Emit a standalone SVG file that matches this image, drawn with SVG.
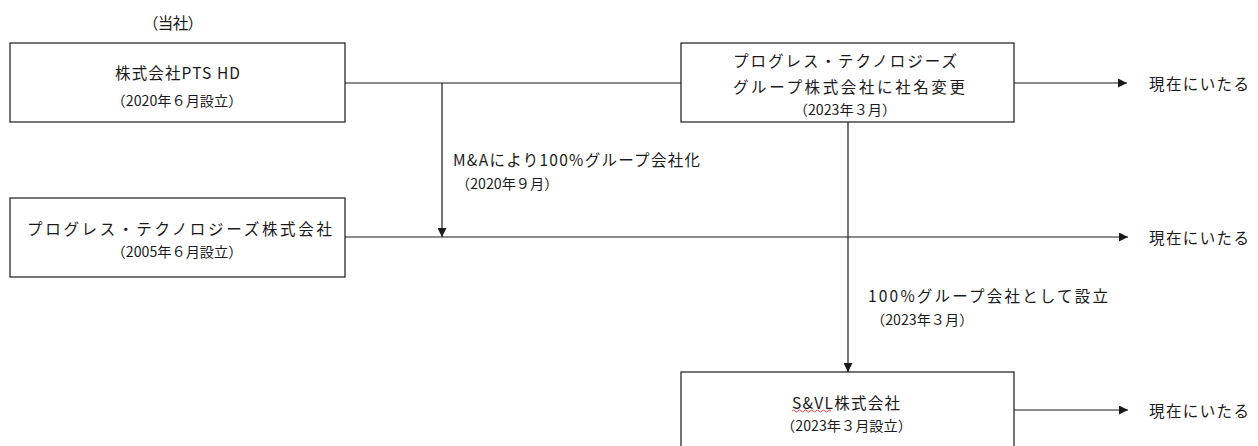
<svg xmlns="http://www.w3.org/2000/svg" width="1258" height="446" viewBox="0 0 1258 446">
<style>
  .box { fill: #ffffff; stroke: #1a1a1a; stroke-width: 1.2; }
  .t { font-family: "Noto Sans CJK JP", "Noto Sans", sans-serif; font-size: 15.5px; fill: #1a1a1a; dominant-baseline: central; }
  .p { font-size: 14.2px; }
  .c { text-anchor: middle; }
  .ln { fill: none; stroke: #1a1a1a; stroke-width: 1.2; }
  .squig { fill: none; stroke: #e03030; stroke-width: 0.9; }
</style>
<defs>
  <marker id="arr" viewBox="0 0 10 10" refX="10" refY="5" markerWidth="9" markerHeight="9" markerUnits="userSpaceOnUse" orient="auto">
    <path d="M0,0 L10,5 L0,10 Z" fill="#1a1a1a"/>
  </marker>
</defs>
<rect width="1258" height="446" fill="#ffffff"/>

<g id="label-tousha">
  <text class="t c" x="173" y="22" textLength="60" lengthAdjust="spacing">（当社）</text>
</g>

<g id="node-pts-hd">
  <rect class="box" x="10" y="43" width="335" height="79"/>
  <text class="t c" x="177.5" y="72" textLength="125" lengthAdjust="spacing">株式会社PTS HD</text>
  <text class="t p c" x="177" y="100">（2020年６月設立）</text>
</g>

<g id="node-ptg">
  <rect class="box" x="681" y="43" width="333" height="79"/>
  <text class="t c" x="845" y="60" textLength="224" lengthAdjust="spacing">プログレス・テクノロジーズ</text>
  <text class="t c" x="849" y="86" textLength="232" lengthAdjust="spacing">グループ株式会社に社名変更</text>
  <text class="t p c" x="845" y="109">（2023年３月）</text>
</g>

<g id="node-pt">
  <rect class="box" x="10" y="198" width="335" height="79"/>
  <text class="t c" x="179.5" y="228" textLength="305" lengthAdjust="spacing">プログレス・テクノロジーズ株式会社</text>
  <text class="t p c" x="177" y="251">（2005年６月設立）</text>
</g>

<g id="node-svl">
  <rect class="box" x="681" y="372" width="333" height="90"/>
  <text class="t c" x="846" y="402" textLength="108" lengthAdjust="spacing">S&amp;VL株式会社</text>
  <path class="squig" d="M792,411 q1.5,-2 3,0 t3,0 t3,0 t3,0 t3,0 t3,0 t3,0 t3,0 t3,0 t3,0 t3,0 t3,0 t3,0"/>
  <text class="t p c" x="846.5" y="425">（2023年３月設立）</text>
</g>

<g id="connectors">
  <path class="ln" d="M345,83 H681"/>
  <path class="ln" d="M442,83 V237" marker-end="url(#arr)"/>
  <path class="ln" d="M345,237 H1128" marker-end="url(#arr)"/>
  <path class="ln" d="M1014,83 H1127" marker-end="url(#arr)"/>
  <path class="ln" d="M848,122 V372" marker-end="url(#arr)"/>
  <path class="ln" d="M1014,410 H1128" marker-end="url(#arr)"/>
  <text class="t" x="453" y="159" textLength="247" lengthAdjust="spacing">M&amp;Aにより100%グループ会社化</text>
  <text class="t p" x="456" y="183">（2020年９月）</text>
  <text class="t" x="868" y="295" textLength="240" lengthAdjust="spacing">100%グループ会社として設立</text>
  <text class="t p" x="871" y="319">（2023年３月）</text>
</g>

<g id="label-current-1">
  <text class="t" x="1149" y="83" textLength="100" lengthAdjust="spacing">現在にいたる</text>
</g>
<g id="label-current-2">
  <text class="t" x="1149" y="237" textLength="100" lengthAdjust="spacing">現在にいたる</text>
</g>
<g id="label-current-3">
  <text class="t" x="1149" y="410" textLength="100" lengthAdjust="spacing">現在にいたる</text>
</g>
</svg>
